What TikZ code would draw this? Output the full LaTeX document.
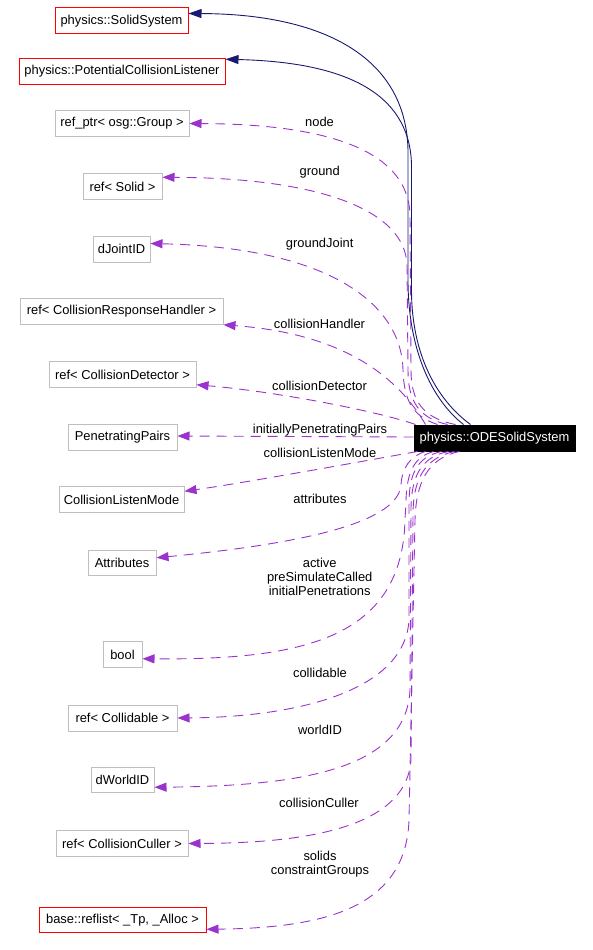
\documentclass[tikz,border=0pt]{standalone}
\usepackage{fontspec}
\setmainfont{Liberation Sans}
\usetikzlibrary{arrows.meta,calc}
\definecolor{edgeblue}{HTML}{191970}
\definecolor{edgepurple}{HTML}{9A32CD}
\definecolor{boxgray}{HTML}{BFBFBF}
\definecolor{boxred}{HTML}{FF0000}
\begin{document}
\begin{tikzpicture}[x=1pt,y=-1pt,
  cls/.style={draw=boxgray, line width=1pt, fill=white, inner sep=0pt, minimum height=25.5pt, font=\fontsize{12.9}{14}\selectfont},
  redcls/.style={cls, draw=boxred},
  mainbox/.style={cls, draw=black, fill=black, text=white},
  lbl/.style={font=\fontsize{12.9}{14}\selectfont, align=center, inner sep=0pt},
  inh/.style={draw=edgeblue, line width=0.9pt, -{Triangle[length=13pt,width=9pt]}},
  dep/.style={draw=edgepurple, line width=0.9pt, dash pattern=on 10pt off 7pt, -{Triangle[length=12pt,width=9pt]}},
]
\useasboundingbox (0,0) rectangle (592,950);

% nodes
\node[redcls, minimum width=133pt, minimum height=26pt] (solidsys) at (121.5,21) {physics::SolidSystem};
\node[redcls, minimum width=206pt] (pcl) at (122,71.5) {physics::PotentialCollisionListener};
\node[cls, minimum width=134pt] (refptr) at (122,123.5) {ref\_ptr< osg::Group >};
\node[cls, minimum width=79pt] (refsolid) at (122.5,186.5) {ref< Solid >};
\node[cls, minimum width=57pt, minimum height=26pt] (djoint) at (121.5,249) {dJointID};
\node[cls, minimum width=203pt] (crh) at (121.5,311.5) {ref< CollisionResponseHandler >};
\node[cls, minimum width=147pt] (cd) at (122.5,374.5) {ref< CollisionDetector >};
\node[cls, minimum width=109pt, minimum height=26pt] (pp) at (122.5,437) {PenetratingPairs};
\node[cls, minimum width=125pt] (clm) at (121.5,499.5) {CollisionListenMode};
\node[cls, minimum width=68pt] (attr) at (122,563) {Attributes};
\node[cls, minimum width=39pt] (bool) at (122.5,654.5) {bool};
\node[cls, minimum width=109pt, minimum height=26pt] (collidable) at (122.5,718) {ref< Collidable >};
\node[cls, minimum width=63pt] (dworld) at (122.5,780) {dWorldID};
\node[cls, minimum width=132pt] (culler) at (122,843.5) {ref< CollisionCuller >};
\node[redcls, minimum width=167pt] (reflist) at (122.5,920) {base::reflist< \_Tp, \_Alloc >};
\node[mainbox, minimum width=161pt, minimum height=26pt] (ode) at (494.5,438) {physics::ODESolidSystem};

% labels
\node[lbl] (lnode) at (319.5,121.5) {node};
\node[lbl] (lground) at (319.7,172) {ground};
\node[lbl] (lgj) at (319.7,244) {groundJoint};
\node[lbl] (lch) at (319.5,323.5) {collisionHandler};
\node[lbl] (lcd) at (319.5,386) {collisionDetector};
\node[lbl] (lipp) at (320,430.5) {initiallyPenetratingPairs};
\node[lbl] (lclm) at (320,453) {collisionListenMode};
\node[lbl] (lattr) at (320,499) {attributes};
\node[lbl] (lact) at (319.7,577) {active\\preSimulateCalled\\initialPenetrations};
\node[lbl] (lcoll) at (320,673.3) {collidable};
\node[lbl] (lworld) at (320,730) {worldID};
\node[lbl] (lcull) at (319,803.3) {collisionCuller};
\node[lbl] (lsol) at (320,864.5) {solids\\constraintGroups};

% inheritance edges
\draw[inh] ($(ode.north west)+(50,0)$) .. controls (432,400) and (408,350) .. (408,280) -- (408,150) .. controls (406,55) and (320,14) .. ($(solidsys.north east)+(0,6)$);
\draw[inh] ($(ode.north west)+(57,0)$) .. controls (437,400) and (411.5,355) .. (411.5,290) -- (411.5,165) .. controls (410,90) and (340,62) .. ($(pcl.north east)+(0,1)$);

% usage edges (top)
\draw[dep] ($(ode.north west)+(42,0)$) .. controls (422,418) and (411,400) .. (411,370) -- (410,215) .. controls (408,140) and (300,124) .. (refptr.east);
\draw[dep] ($(ode.north west)+(34,0)$) .. controls (418,418) and (408,400) .. (408,370) -- (407,265) .. controls (405,210) and (320,178) .. ($(refsolid.north east)+(0,4)$);
\draw[dep] ($(ode.north west)+(24,0)$) .. controls (412,416) and (404,400) .. (403,370) .. controls (402,310) and (340,248) .. ($(djoint.north east)+(0,8)$);
\draw[dep] ($(ode.north west)+(12,0)$) .. controls (405,390) and (360,335) .. (crh.south east);
\draw[dep] ($(ode.north west)+(2,0)$) .. controls (380,412) and (280,392) .. ($(cd.south east)+(0,-3)$);
\draw[dep] ($(ode.west)+(0,-1)$) -- ($(pp.east)+(0,-1)$);

% usage edges (bottom)
\draw[dep] ($(ode.south west)+(4,0)$) .. controls (380,458) and (250,482) .. ($(clm.north east)+(0,5)$);
\draw[dep] ($(ode.south west)+(12,0)$) .. controls (410,456) and (402,468) .. (401,485) .. controls (398,515) and (340,540) .. ($(attr.north east)+(0,8)$);
\draw[dep] ($(ode.south west)+(20,0)$) .. controls (414,457) and (407,472) .. (406,500) -- (405,520) .. controls (402,640) and (300,660) .. ($(bool.south east)+(0,-9)$);
\draw[dep] ($(ode.south west)+(28,0)$) .. controls (416,457) and (409,475) .. (409,505) -- (409,620) .. controls (405,690) and (300,717) .. (collidable.east);
\draw[dep] ($(ode.south west)+(35,0)$) .. controls (420,457) and (411,478) .. (411,510) -- (410,690) .. controls (406,770) and (300,786) .. ($(dworld.south east)+(0,-6)$);
\draw[dep] ($(ode.south west)+(41,0)$) .. controls (424,458) and (413,480) .. (413,515) -- (411,760) .. controls (406,830) and (300,843) .. (culler.east);
\draw[dep] ($(ode.south west)+(46,0)$) .. controls (428,458) and (416,482) .. (415,520) -- (409,820) .. controls (406,910) and (320,928) .. ($(reflist.south east)+(0,-4)$);
\end{tikzpicture}
\end{document}
